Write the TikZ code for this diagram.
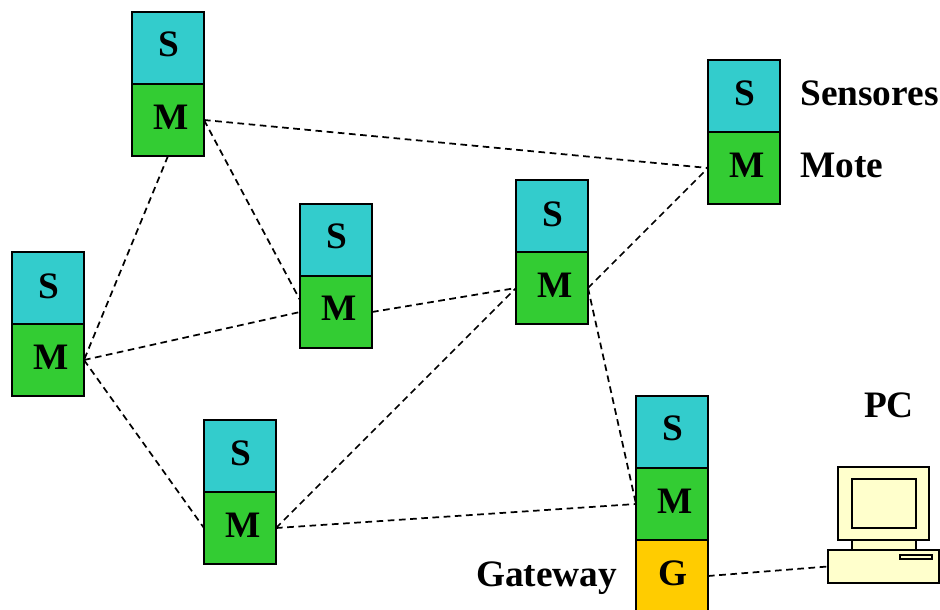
\documentclass[tikz,border=0pt]{standalone}
\usepackage{fontspec}
\setmainfont{Liberation Serif}
\usetikzlibrary{calc}
\tikzset{
  cell/.style={draw=black,line width=1.7pt,minimum width=54pt,minimum height=54pt,inner sep=0pt,outer sep=0pt},
  sensor/.style={cell,fill=sensorcol},
  mote/.style={cell,fill=motecol},
  gate/.style={cell,fill=gatecol},
  letter/.style={inner sep=0pt,font=\fontsize{28}{30}\selectfont\bfseries},
  side/.style={inner sep=0pt,anchor=base west,font=\fontsize{28}{30}\selectfont\bfseries},
  link/.style={draw=black,line width=1.3pt,dash pattern=on 5pt off 3.4pt},
  pcpart/.style={draw=black,line width=1.3pt,fill=pccol,inner sep=0pt,outer sep=0pt}
}
\definecolor{sensorcol}{HTML}{33CCCC}
\definecolor{motecol}{HTML}{33CC33}
\definecolor{gatecol}{HTML}{FFCC00}
\definecolor{pccol}{HTML}{FFFFCC}
% name, x, y, vertical offset of S, vertical offset of M
\newcommand{\stack}[5]{%
  \node[sensor] (#1s) at (#2,#3) {};
  \node[mote] (#1m) at (#2,#3+72) {};
  \node[letter] (#1sl) at (#2+1,#3-4+#4) {S};
  \node[letter] (#1ml) at (#2+3,#3+70+#5) {M};
}
\begin{document}
\begin{tikzpicture}[x=0.75pt,y=-0.75pt]
\useasboundingbox (0,0) rectangle (940,610);
\begin{scope}
\clip (0,0) rectangle (940,610);
\stack{a}{168}{48}{0}{-1}
\stack{b}{744}{96}{1}{-1}
\stack{c}{336}{240}{0}{-2}
\stack{d}{48}{288}{2}{-1}
\stack{e}{240}{456}{1}{-1}
\stack{f}{552}{216}{2}{-1}
\stack{g}{672}{432}{0}{-1}
\node[gate] (gg) at (672,576) {};
\node[letter] (ggl) at (673,573) {G};
\end{scope}
\node[side] (lsens) at (800,105.5) {Sensores};
\node[side] (lmote) at (800,177.5) {Mote};
\node[side] (lgate) at (476,586) {Gateway};
\node[letter] (lpc) at (889,405) {PC};
% PC
\node[pcpart,minimum width=48pt,minimum height=8pt] (neck) at (884,545) {};
\node[pcpart,minimum width=68.2pt,minimum height=54.7pt] (monitor) at (883.5,503.5) {};
\node[pcpart,minimum width=48pt,minimum height=36.7pt] (screen) at (884,503.5) {};
\node[pcpart,minimum width=83.5pt,minimum height=24.7pt] (base) at (883.5,566.5) {};
\node[pcpart,minimum width=24pt,minimum height=3.5pt] (slot) at (916,557) {};
% ports
\coordinate (cupper) at ($(cm.west)+(0,9pt)$);
% links
\draw[link] (am.east) -- (bm.west);
\draw[link] (am.east) -- (cupper);
\draw[link] (am.south) -- (dm.east);
\draw[link] (dm.east) -- (cm.west);
\draw[link] (dm.east) -- (em.west);
\draw[link] (cm.east) -- (fm.west);
\draw[link] (em.east) -- (fm.west);
\draw[link] (em.east) -- (gm.west);
\draw[link] (fm.east) -- (bm.west);
\draw[link] (fm.east) -- (gm.west);
\draw[link] (gg.east) -- (base.west);
\end{tikzpicture}
\end{document}
